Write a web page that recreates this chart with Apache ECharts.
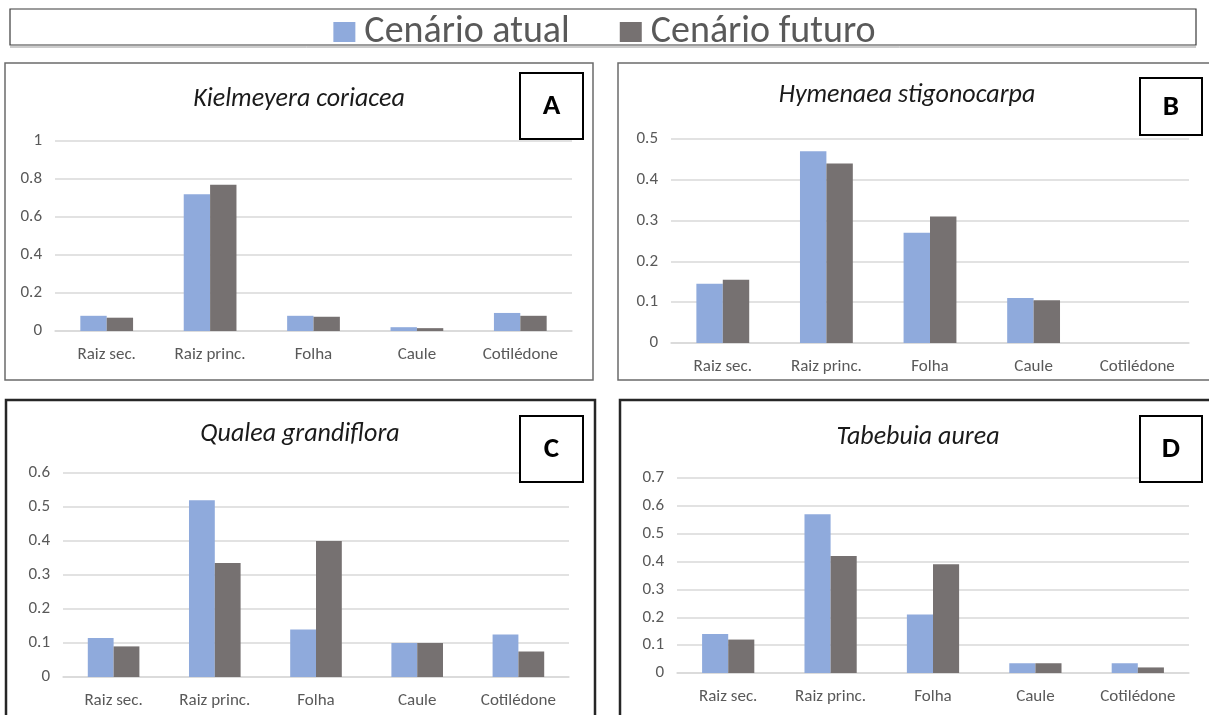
<!DOCTYPE html>
<html>
<head>
<meta charset="utf-8">
<script src="https://cdn.jsdelivr.net/npm/echarts@6/dist/echarts.min.js"></script>
<style>
  html, body { margin: 0; padding: 0; background: #fff; }
  #chart { width: 1209px; height: 715px; }
</style>
</head>
<body>
<div id="chart"></div>
<script>
// Organ categories shared by all four panels
const categories = ['Raiz sec.', 'Raiz princ.', 'Folha', 'Caule', 'Cotilédone'];
const seriesNames = ['Cenário atual', 'Cenário futuro'];

// A - Kielmeyera coriacea
const kielmeyeraAtual  = [0.08, 0.72, 0.08, 0.02, 0.095];
const kielmeyeraFuturo = [0.07, 0.77, 0.075, 0.015, 0.08];
// B - Hymenaea stigonocarpa
const hymenaeaAtual  = [0.145, 0.47, 0.27, 0.11, 0];
const hymenaeaFuturo = [0.155, 0.44, 0.31, 0.105, 0];
// C - Qualea grandiflora
const qualeaAtual  = [0.115, 0.52, 0.14, 0.10, 0.125];
const qualeaFuturo = [0.09, 0.335, 0.40, 0.10, 0.075];
// D - Tabebuia aurea
const tabebuiaAtual  = [0.14, 0.57, 0.21, 0.035, 0.035];
const tabebuiaFuturo = [0.12, 0.42, 0.39, 0.035, 0.02];

// Axis ranges per panel
const yMax = [1, 0.5, 0.6, 0.7];
const yStep = [0.2, 0.1, 0.1, 0.1];

const panelTitles = ['Kielmeyera coriacea', 'Hymenaea stigonocarpa', 'Qualea grandiflora', 'Tabebuia aurea'];
const panelLetters = ['A', 'B', 'C', 'D'];
const panelData = [
  [kielmeyeraAtual, kielmeyeraFuturo],
  [hymenaeaAtual, hymenaeaFuturo],
  [qualeaAtual, qualeaFuturo],
  [tabebuiaAtual, tabebuiaFuturo]
];

const FONT = 'Carlito, "Liberation Sans Narrow", "Open Sans", sans-serif';
const BLUE = '#8faadc';
const GRAY = '#767171';
const GRID_LINE = '#d9d9d9';
const LABEL = '#595959';

// Layout of each panel's plot area
const grids = [
  { left: 55,  top: 141, width: 517, height: 190 },
  { left: 671, top: 139, width: 518, height: 204 },
  { left: 63,  top: 473, width: 506, height: 204 },
  { left: 677, top: 478, width: 512, height: 195 }
];
// Panel frames, title centres and letter boxes
const frames = [
  { x: 5,   y: 63,  w: 588, h: 317, color: '#6b6b6b', lw: 1.5 },
  { x: 618, y: 63,  w: 600, h: 317, color: '#6b6b6b', lw: 1.5 },
  { x: 6,   y: 400, w: 589, h: 330, color: '#262626', lw: 2.5 },
  { x: 620, y: 400, w: 600, h: 330, color: '#262626', lw: 2.5 }
];
const titlePos = [[299, 99], [907, 95], [300, 434], [918, 437]];
const letterBoxes = [
  { x: 520,  y: 73,  w: 63, h: 66 },
  { x: 1140, y: 78,  w: 62, h: 57 },
  { x: 520,  y: 416, w: 63, h: 66 },
  { x: 1140, y: 416, w: 62, h: 66 }
];

const xAxes = [], yAxes = [], series = [], graphic = [];

grids.forEach((g, i) => {
  xAxes.push({
    type: 'category', gridIndex: i, data: categories,
    axisLine: { lineStyle: { color: GRID_LINE, width: 1.5 } },
    axisTick: { show: false },
    axisLabel: { interval: 0, color: LABEL, fontFamily: FONT, fontSize: 17, margin: 15 }
  });
  yAxes.push({
    type: 'value', gridIndex: i, min: 0, max: yMax[i], interval: yStep[i],
    axisLine: { show: false }, axisTick: { show: false },
    splitLine: { lineStyle: { color: GRID_LINE, width: 1.5 } },
    axisLabel: { color: LABEL, fontFamily: FONT, fontSize: 17, margin: 13 }
  });
  panelData[i].forEach((vals, s) => {
    series.push({
      type: 'bar', name: seriesNames[s], xAxisIndex: i, yAxisIndex: i,
      data: vals, barGap: '0%', barCategoryGap: '49%',
      itemStyle: { color: s === 0 ? BLUE : GRAY },
      emphasis: { disabled: true }
    });
  });

  const f = frames[i];
  graphic.push({
    type: 'rect', z: 1,
    shape: { x: f.x, y: f.y, width: f.w, height: f.h },
    style: { fill: null, stroke: f.color, lineWidth: f.lw }
  });
  graphic.push({
    type: 'text', z: 10,
    x: titlePos[i][0], y: titlePos[i][1],
    style: {
      text: panelTitles[i], fill: '#1a1a1a', fontFamily: FONT,
      fontStyle: 'italic', fontSize: 26, align: 'center', verticalAlign: 'middle'
    }
  });
  const b = letterBoxes[i];
  graphic.push({
    type: 'rect', z: 10,
    shape: { x: b.x, y: b.y, width: b.w, height: b.h },
    style: { fill: '#fff', stroke: '#000', lineWidth: 2 }
  });
  graphic.push({
    type: 'text', z: 11,
    x: b.x + b.w / 2, y: b.y + b.h / 2 + 1,
    style: {
      text: panelLetters[i], fill: '#000', fontFamily: FONT,
      fontWeight: 'bold', fontSize: 29, align: 'center', verticalAlign: 'middle'
    }
  });
});

// Legend frame with its soft lower edge
graphic.push({
  type: 'rect', z: 1,
  shape: { x: 10, y: 9, width: 1186, height: 36 },
  style: { fill: null, stroke: '#3a3a3a', lineWidth: 1.2 }
});
graphic.push({
  type: 'line', z: 1,
  shape: { x1: 10, y1: 47, x2: 1196, y2: 47 },
  style: { stroke: '#9a9a9a', lineWidth: 1 }
});

const chart = echarts.init(document.getElementById('chart'), null, { renderer: 'canvas' });
chart.setOption({
  animation: false,
  backgroundColor: '#fff',
  legend: {
    data: seriesNames,
    left: 'center', top: 8,
    icon: 'rect', itemWidth: 22, itemHeight: 20, itemGap: 50,
    textStyle: { color: LABEL, fontFamily: FONT, fontSize: 38, padding: [0, 0, 0, 4] },
    selectedMode: false
  },
  grid: grids.map(g => Object.assign({ containLabel: false }, g)),
  xAxis: xAxes,
  yAxis: yAxes,
  series: series,
  graphic: graphic
});
</script>
</body>
</html>
